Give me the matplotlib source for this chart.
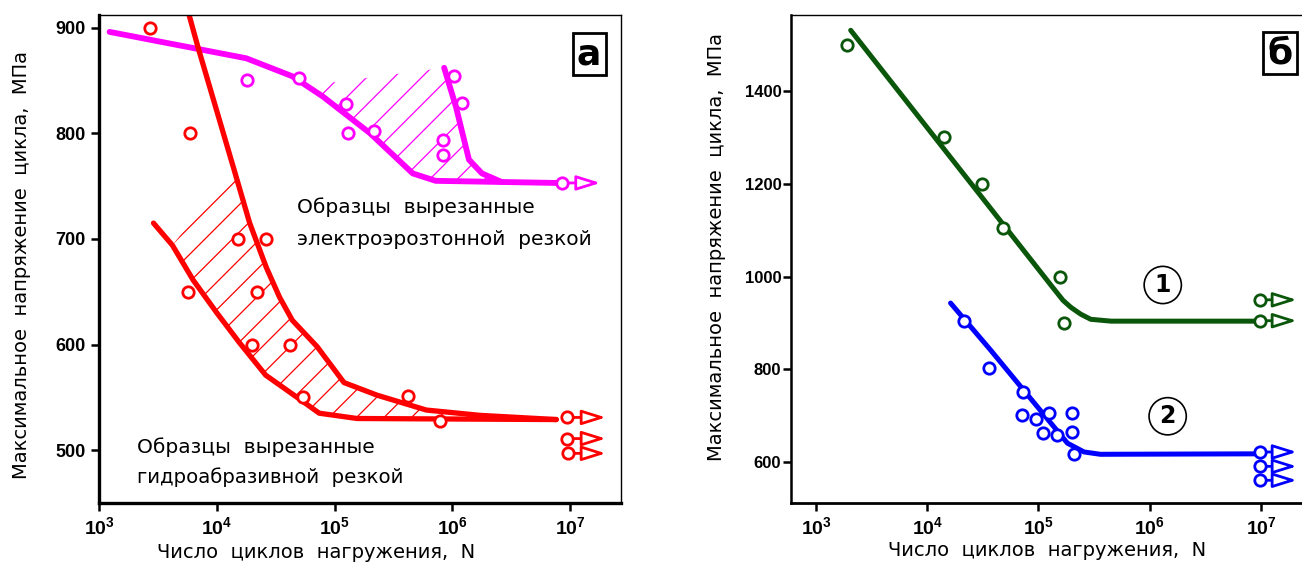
import numpy as np
import matplotlib.pyplot as plt
from matplotlib.patches import Polygon

plt.rcParams['font.family'] = ['DejaVu Sans']
plt.rcParams['mathtext.fontset'] = 'custom'
plt.rcParams['mathtext.rm'] = 'Liberation Sans'
plt.rcParams['mathtext.bf'] = 'Liberation Sans:bold'

MAG = '#ff00ff'
RED = '#ff0000'
GRN = '#0a560a'
BLU = '#0000ff'

# ---- panel a : electro-erosion cut (magenta)
mag_curve_N = [1.23e3, 1.78e4, 4.37e4, 7.9e4, 2.0e5, 4.6e5, 7.2e5, 7.6e6]
mag_curve_S = [896, 871, 854, 835, 800, 762, 755, 753]
mag_steep_N = [8.5e5, 1.07e6, 1.38e6, 1.78e6, 2.6e6]
mag_steep_S = [862, 825, 775, 762, 754]
mag_hatch_top = 847
mag_pts_N = [1.8e4, 5.0e4, 1.26e5, 1.3e5, 2.14e5, 1.03e6, 1.2e6, 8.3e5, 8.3e5, 8.5e6]
mag_pts_S = [850, 852, 828, 800, 802, 854, 829, 794, 779, 753]
mag_runout_N = [8.5e6]
mag_runout_S = [753]

# ---- panel a : waterjet cut (red)
red_up_N = [5.4e3, 6.9e3, 1.38e4, 1.9e4, 2.63e4, 3.4e4, 4.37e4, 7.1e4, 1.2e5, 2.3e5, 6.0e5, 1.7e6, 7.6e6]
red_up_S = [925, 882, 768, 715, 673, 645, 623, 598, 564, 552, 538, 533, 529]
red_lo_N = [2.9e3, 4.2e3, 6.3e3, 1.0e4, 1.55e4, 2.6e4, 4.8e4, 7.4e4, 1.55e5, 7.6e6]
red_lo_S = [715, 694, 661, 630, 602, 571, 550, 535, 530, 529]
red_pts_N = [2.7e3, 5.9e3, 1.5e4, 2.6e4, 5.7e3, 2.2e4, 2.0e4, 4.2e4, 5.4e4, 4.2e5, 7.9e5, 9.3e6, 9.3e6, 9.5e6]
red_pts_S = [900, 800, 700, 700, 650, 650, 600, 600, 550, 551, 528, 531, 511, 497]
red_runout_N = [9.3e6, 9.3e6, 9.5e6]
red_runout_S = [531, 511, 497]

# ---- panel b : curve 1 (green), curve 2 (blue)
grn_line_N = [2.05e3, 1.29e5, 1.66e5, 1.95e5, 2.4e5, 2.95e5, 4.5e5, 9.3e6]
grn_line_S = [1531, 982, 949, 934, 919, 908, 904, 904]
grn_pts_N = [1.9e3, 1.4e4, 3.1e4, 4.8e4, 1.55e5, 1.7e5, 9.8e6, 9.8e6]
grn_pts_S = [1500, 1300, 1200, 1105, 1000, 900, 950, 905]
grn_runout_N = [9.8e6, 9.8e6]
grn_runout_S = [950, 905]

blu_line_N = [1.62e4, 3.7e4, 1.82e5, 2.57e5, 3.6e5, 9.5e6]
blu_line_S = [943, 842, 641, 622, 617, 618]
blu_pts_N = [2.15e4, 3.6e4, 7.2e4, 7.1e4, 9.4e4, 1.25e5, 1.1e5, 1.48e5, 2.0e5, 2.0e5, 2.1e5, 9.9e6, 9.9e6, 9.9e6]
blu_pts_S = [905, 803, 751, 701, 693, 706, 663, 658, 706, 665, 617, 622, 591, 561]
blu_runout_N = [9.9e6, 9.9e6, 9.9e6]
blu_runout_S = [622, 591, 561]

xticks = [1e3, 1e4, 1e5, 1e6, 1e7]
xticklabels = [r'$\mathbf{10^{%d}}$' % k for k in range(3, 8)]

ylabel = 'Максимальное  напряжение  цикла,  МПа'
xlabel = 'Число  циклов  нагружения,  N'


def hatch(ax, xs, ys, color, step=27.5):
    poly = Polygon(np.column_stack([xs, ys]), closed=True, fill=False,
                   edgecolor='none', transform=ax.transData)
    ax.add_patch(poly)
    bb = ax.get_window_extent()
    W, H = bb.width, bb.height
    for c in np.arange(-H, W, step):
        ln, = ax.plot([c / W, (c + H) / W], [0, 1], transform=ax.transAxes,
                      color=color, lw=0.9, zorder=1)
        ln.set_clip_path(poly)


def points(ax, N, S, color):
    ax.plot(N, S, 'o', ms=8.2, mew=2.0, mec=color, mfc='white', zorder=4, ls='none')


def runouts(ax, N, S, color, x_end):
    for n, s in zip(N, S):
        ax.annotate('', xy=(x_end, s), xytext=(n, s),
                    arrowprops=dict(arrowstyle='-|>,head_length=0.8,head_width=0.25',
                                    mutation_scale=18, lw=2.0, ec=color, fc='white',
                                    shrinkA=0, shrinkB=0), zorder=3)


def style(ax, lw_left, lw_bottom, yfs):
    ax.set_xscale('log')
    ax.set_xticks(xticks)
    ax.set_xticklabels(xticklabels, fontsize=14)
    ax.minorticks_off()
    for lab in ax.get_yticklabels():
        lab.set_fontfamily('Liberation Sans')
        lab.set_fontweight('bold')
        lab.set_fontsize(yfs)
    ax.spines['left'].set_linewidth(lw_left)
    ax.spines['bottom'].set_linewidth(lw_bottom)
    ax.spines['top'].set_linewidth(1.0)
    ax.spines['right'].set_linewidth(1.0)
    ax.tick_params(axis='both', length=6, width=1.8)


fig = plt.figure(figsize=(13.02, 5.67), dpi=100)

# ================= panel a
ax1 = fig.add_axes([99 / 1302, 1 - 503 / 567, 522 / 1302, 488 / 567])
ax1.set_xscale('log')
ax1.set_xlim(1e3, 10 ** 7.43)
ax1.set_ylim(450, 912)

mag_poly_N = [mag_curve_N[3]] + mag_steep_N + mag_curve_N[6:2:-1]
mag_poly_S = [mag_hatch_top] + mag_steep_S + mag_curve_S[6:2:-1]
hatch(ax1, mag_poly_N, mag_poly_S, MAG)
red_poly_N = red_up_N[2:] + red_lo_N[:0:-1]
red_poly_S = red_up_S[2:] + red_lo_S[:0:-1]
hatch(ax1, red_poly_N, red_poly_S, RED)

ax1.plot(mag_curve_N, mag_curve_S, color=MAG, lw=4.2, solid_capstyle='round', zorder=2)
ax1.plot(mag_steep_N, mag_steep_S, color=MAG, lw=4.2, solid_capstyle='round', zorder=2)
ax1.plot(red_up_N, red_up_S, color=RED, lw=3.8, solid_capstyle='round', zorder=2)
ax1.plot(red_lo_N, red_lo_S, color=RED, lw=3.8, solid_capstyle='round', zorder=2)
runouts(ax1, mag_runout_N, mag_runout_S, MAG, 1.8e7)
runouts(ax1, red_runout_N, red_runout_S, RED, 2.0e7)
points(ax1, mag_pts_N, mag_pts_S, MAG)
points(ax1, red_pts_N, red_pts_S, RED)

ax1.set_yticks([500, 600, 700, 800, 900])
style(ax1, 2.4, 2.4, 13)
ax1.yaxis.get_major_ticks()[-1].tick1line.set_color(MAG)

ax1.text(0.379, 0.607, 'Образцы  вырезанные', transform=ax1.transAxes,
         fontsize=14.5, va='center', ha='left')
ax1.text(0.379, 0.539, 'электроэрозтонной  резкой', transform=ax1.transAxes,
         fontsize=14.5, va='center', ha='left')
ax1.text(0.073, 0.115, 'Образцы  вырезанные', transform=ax1.transAxes,
         fontsize=14.5, va='center', ha='left')
ax1.text(0.073, 0.053, 'гидроабразивной  резкой', transform=ax1.transAxes,
         fontsize=14.2, va='center', ha='left')
ax1.text(0.939, 0.920, 'а', transform=ax1.transAxes, fontsize=26, fontweight='bold',
         ha='center', va='center',
         bbox=dict(boxstyle='square,pad=0.12', fc='white', ec='black', lw=2))

# ================= panel b
ax2 = fig.add_axes([791 / 1302, 1 - 503 / 567, 515 / 1302, 488 / 567])
ax2.set_xscale('log')
ax2.set_xlim(10 ** 2.775, 10 ** 7.405)
ax2.set_ylim(512, 1564)

ax2.plot(grn_line_N, grn_line_S, color=GRN, lw=3.6, solid_capstyle='round', zorder=2)
ax2.plot(blu_line_N, blu_line_S, color=BLU, lw=3.6, solid_capstyle='round', zorder=2)
runouts(ax2, grn_runout_N, grn_runout_S, GRN, 2.1e7)
runouts(ax2, blu_runout_N, blu_runout_S, BLU, 2.1e7)
points(ax2, grn_pts_N, grn_pts_S, GRN)
points(ax2, blu_pts_N, blu_pts_S, BLU)

ax2.set_yticks([600, 800, 1000, 1200, 1400])
style(ax2, 1.8, 2.0, 12)
ax2.tick_params(axis='y', pad=1)
ax2.spines['right'].set_visible(False)

ax2.text(1.31e6, 982, '1', fontsize=17, fontweight='bold', ha='center', va='center',
         bbox=dict(boxstyle='circle,pad=0.28', fc='white', ec='black', lw=1.2))
ax2.text(1.45e6, 699, '2', fontsize=17, fontweight='bold', ha='center', va='center',
         bbox=dict(boxstyle='circle,pad=0.28', fc='white', ec='black', lw=1.2))
ax2.text(0.95, 0.922, 'б', transform=ax2.transAxes, fontsize=26, fontweight='bold',
         ha='center', va='center',
         bbox=dict(boxstyle='square,pad=0.12', fc='white', ec='black', lw=2))

fig.text(22 / 1302, 1 - 265 / 567, ylabel, rotation=90, fontsize=14,
         ha='center', va='center')
fig.text(717 / 1302, 1 - 247 / 567, ylabel, rotation=90, fontsize=14,
         ha='center', va='center')
fig.text(316 / 1302, 1 - 553 / 567, xlabel, fontsize=14, ha='center', va='center')
fig.text(1047 / 1302, 1 - 551 / 567, xlabel, fontsize=14, ha='center', va='center')

fig.savefig('out.png', dpi=100)
